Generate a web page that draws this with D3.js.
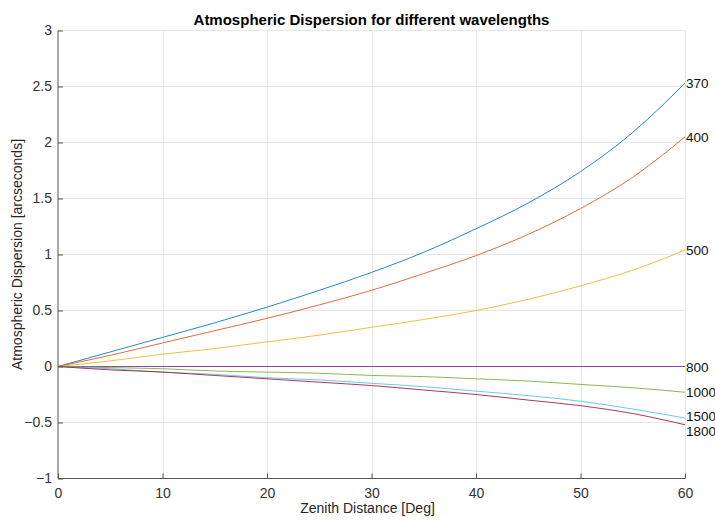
<!DOCTYPE html>
<html>
<head>
<meta charset="utf-8">
<title>Atmospheric Dispersion</title>
<script src="https://d3js.org/d3.v7.min.js"></script>
<style>
  body { margin: 0; background: #fff; }
  svg text { font-family: "Liberation Sans", Arial, sans-serif; fill: #262626; }
  .grid line { stroke: #e6e6e6; stroke-width: 1; }
  .axis path, .axis line { stroke: #555; }
  .serie { fill: none; stroke-width: 1; opacity: 0.85; }
</style>
</head>
<body>
<div id="grafico"></div>
<script>
// zenith distance (deg)
var zenith = [0, 5, 10, 15, 20, 25, 30, 35, 40, 45, 50, 55, 60];

// dispersion in arcseconds
var d370  = [0, 0.13, 0.26, 0.39, 0.53, 0.68, 0.84, 1.02, 1.23, 1.46, 1.74, 2.09, 2.53];
var d400  = [0, 0.10, 0.21, 0.32, 0.43, 0.55, 0.68, 0.83, 0.99, 1.18, 1.41, 1.69, 2.05];
var d500  = [0, 0.05, 0.11, 0.16, 0.22, 0.28, 0.35, 0.42, 0.50, 0.60, 0.72, 0.86, 1.04];
var d800  = [0, 0, 0, 0, 0, 0, 0, 0, 0, 0, 0, 0, 0];
var d1000 = [0, -0.01, -0.02, -0.04, -0.05, -0.06, -0.08, -0.09, -0.11, -0.13, -0.16, -0.19, -0.23];
var d1500 = [0, -0.02, -0.05, -0.07, -0.10, -0.12, -0.15, -0.18, -0.22, -0.26, -0.31, -0.38, -0.46];
var d1800 = [0, -0.03, -0.05, -0.08, -0.11, -0.14, -0.17, -0.21, -0.25, -0.30, -0.35, -0.42, -0.52];

var nomes = ["370", "400", "500", "800", "1000", "1500", "1800"];
var series = [d370, d400, d500, d800, d1000, d1500, d1800];
var cores = ["#0072bd", "#d95319", "#edb120", "#7e2f8e", "#77ac30", "#4dbeee", "#a2142f"];

var xTicks = [0, 10, 20, 30, 40, 50, 60];
var yTicks = [-1, -0.5, 0, 0.5, 1, 1.5, 2, 2.5, 3];

var larguraSVG = 715, alturaSVG = 521;
var margin = {top: 30.5, right: 30, bottom: 42.5, left: 58};
var larguraVis = larguraSVG - margin.left - margin.right,
    alturaVis = alturaSVG - margin.top - margin.bottom;

var x = d3.scaleLinear().domain([0, 60]).range([0, larguraVis]);
var y = d3.scaleLinear().domain([-1, 3]).range([alturaVis, 0]);

var svg = d3.select('#grafico').append('svg')
    .attr('width', larguraSVG)
    .attr('height', alturaSVG);

var grafico = svg.append('g')
    .attr('transform', 'translate(' + margin.left + ',' + margin.top + ')');

// grid
var grid = grafico.append('g').attr('class', 'grid');
grid.selectAll('.gx').data(xTicks.slice(1)).enter().append('line')
    .attr('x1', d => Math.round(x(d)) + 0.5).attr('x2', d => Math.round(x(d)) + 0.5)
    .attr('y1', 0).attr('y2', alturaVis);
grid.selectAll('.gy').data(yTicks.slice(1)).enter().append('line')
    .attr('y1', d => Math.round(y(d))).attr('y2', d => Math.round(y(d)))
    .attr('x1', 0).attr('x2', larguraVis);

// lines
var linha = d3.line()
    .x((d, i) => x(zenith[i]))
    .y(d => y(d))
    .curve(d3.curveMonotoneX);

grafico.selectAll('.serie').data(series).enter().append('path')
    .attr('class', 'serie')
    .attr('d', d => linha(d))
    .attr('stroke', (d, i) => cores[i]);

// end labels
var offsets = [0, 0, 0, 0, 0, -2, 6];
grafico.selectAll('.rotulo').data(series).enter().append('text')
    .attr('x', larguraVis + 1)
    .attr('y', (d, i) => y(d[d.length - 1]) + 5 + offsets[i])
    .style('font-size', '13.5px')
    .style('fill', '#111')
    .text((d, i) => nomes[i]);

// axes
var eixoX = grafico.append('g').attr('class', 'axis')
    .attr('transform', 'translate(0,' + alturaVis + ')')
    .call(d3.axisBottom(x).tickValues(xTicks).tickSize(-5).tickSizeOuter(0).tickPadding(10));
eixoX.select('.domain').attr('d', 'M0,0H' + larguraVis);
eixoX.selectAll('text').style('font-size', '14px').style('fill', '#333');

var eixoY = grafico.append('g').attr('class', 'axis')
    .call(d3.axisLeft(y).tickValues(yTicks).tickSize(-5).tickSizeOuter(0).tickPadding(6)
      .tickFormat(d3.format('')));
eixoY.select('.domain').attr('d', 'M0,' + alturaVis + 'V0');
eixoY.selectAll('text').style('font-size', '14px').style('fill', '#333');

// title and axis labels
svg.append('text')
    .attr('x', margin.left + larguraVis / 2)
    .attr('y', 25)
    .attr('text-anchor', 'middle')
    .style('font-size', '15px')
    .style('font-weight', 'bold')
    .style('fill', '#000')
    .text('Atmospheric Dispersion for different wavelengths');

svg.append('text')
    .attr('x', margin.left + larguraVis / 2 - 4)
    .attr('y', 513)
    .attr('text-anchor', 'middle')
    .style('font-size', '14px')
    .text('Zenith Distance [Deg]');

svg.append('text')
    .attr('transform', 'translate(22,' + (margin.top + alturaVis / 2) + ') rotate(-90)')
    .attr('text-anchor', 'middle')
    .style('font-size', '14px')
    .text('Atmospheric Dispersion [arcseconds]');
</script>
</body>
</html>
